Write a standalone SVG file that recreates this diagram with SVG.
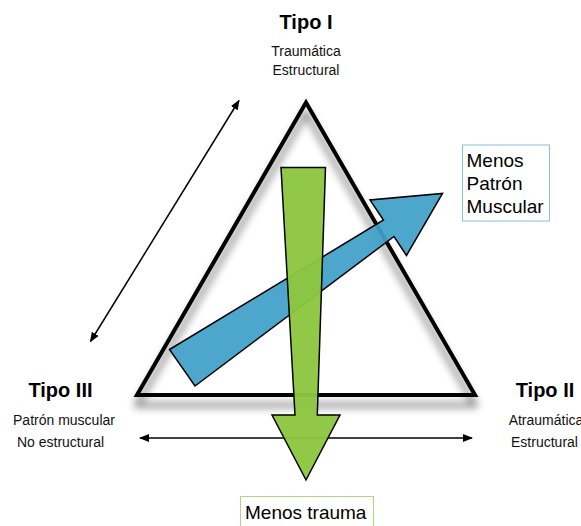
<svg xmlns="http://www.w3.org/2000/svg" width="581" height="526" viewBox="0 0 581 526">
  <style>
    .title { font-family: "Liberation Sans", Arial, sans-serif; font-weight: bold; font-size: 20px; fill: #000; text-anchor: middle; }
    .sub { font-family: "Liberation Sans", Arial, sans-serif; font-size: 14px; fill: #111; text-anchor: middle; }
    .lbl { font-family: "Liberation Sans", Arial, sans-serif; font-size: 19px; fill: #000; }
    .thin { stroke: #000; stroke-width: 1.5; fill: none; }
    .arrowshape { stroke: #000; stroke-width: 1.5; stroke-linejoin: miter; }
  </style>
  <defs>
    <marker id="ah" viewBox="0 0 10 8" refX="9" refY="4" markerWidth="10" markerHeight="8" markerUnits="userSpaceOnUse" orient="auto-start-reverse">
      <path d="M0,0 L10,4 L0,8 Z" fill="#000"/>
    </marker>
    <filter id="shadow" x="-20%" y="-20%" width="140%" height="150%">
      <feGaussianBlur in="SourceAlpha" stdDeviation="4"/>
      <feOffset dx="0" dy="10" result="b"/>
      <feComponentTransfer><feFuncA type="linear" slope="0.6"/></feComponentTransfer>
      <feMerge><feMergeNode/><feMergeNode in="SourceGraphic"/></feMerge>
    </filter>
  </defs>
  <rect width="581" height="526" fill="#fff"/>

  <g id="triangle">
    <polygon points="306,102.5 137,395 475,395" fill="none" stroke="#000" stroke-width="4" stroke-linejoin="miter" filter="url(#shadow)"/>
  </g>

  <g id="connectors">
    <line class="thin" x1="90.5" y1="341.5" x2="239" y2="100.5" marker-start="url(#ah)" marker-end="url(#ah)"/>
    <line class="thin" x1="140" y1="438" x2="472" y2="438" marker-start="url(#ah)" marker-end="url(#ah)"/>
  </g>

  <g id="blue-arrow">
    <polygon class="arrowshape" points="169.5,349.5 383.5,220 370,200 442.5,193.5 406.5,255.5 394,236.5 195,386" fill="#3fa0c8" fill-opacity="0.93"/>
  </g>

  <g id="green-arrow">
    <polygon class="arrowshape" points="281,167.5 325.5,167.5 317.3,415 340,415 306,480 272,415 295,415" fill="#8cc63f" fill-opacity="0.96"/>
  </g>

  <g id="tipo-i">
    <text class="title" x="306" y="29">Tipo I</text>
    <text class="sub" x="306" y="56">Traumática</text>
    <text class="sub" x="306" y="75">Estructural</text>
  </g>

  <g id="tipo-iii">
    <text class="title" x="60.5" y="397">Tipo III</text>
    <text class="sub" x="64" y="425">Patrón muscular</text>
    <text class="sub" x="60.5" y="446.5">No estructural</text>
  </g>

  <g id="tipo-ii">
    <text class="title" x="545" y="397">Tipo II</text>
    <text class="sub" x="546" y="425">Atraumática</text>
    <text class="sub" x="544.5" y="446.5">Estructural</text>
  </g>

  <g id="menos-patron">
    <rect x="462.5" y="145" width="87" height="76" fill="#fff" stroke="#8bbfdb" stroke-width="1"/>
    <text class="lbl" x="466.5" y="167">Menos</text>
    <text class="lbl" x="466.5" y="190">Patrón</text>
    <text class="lbl" x="466.5" y="213">Muscular</text>
  </g>

  <g id="menos-trauma">
    <rect x="240.5" y="496.5" width="133" height="40" fill="#fff" stroke="#acd982" stroke-width="1"/>
    <text class="lbl" x="245" y="519">Menos trauma</text>
  </g>
</svg>
